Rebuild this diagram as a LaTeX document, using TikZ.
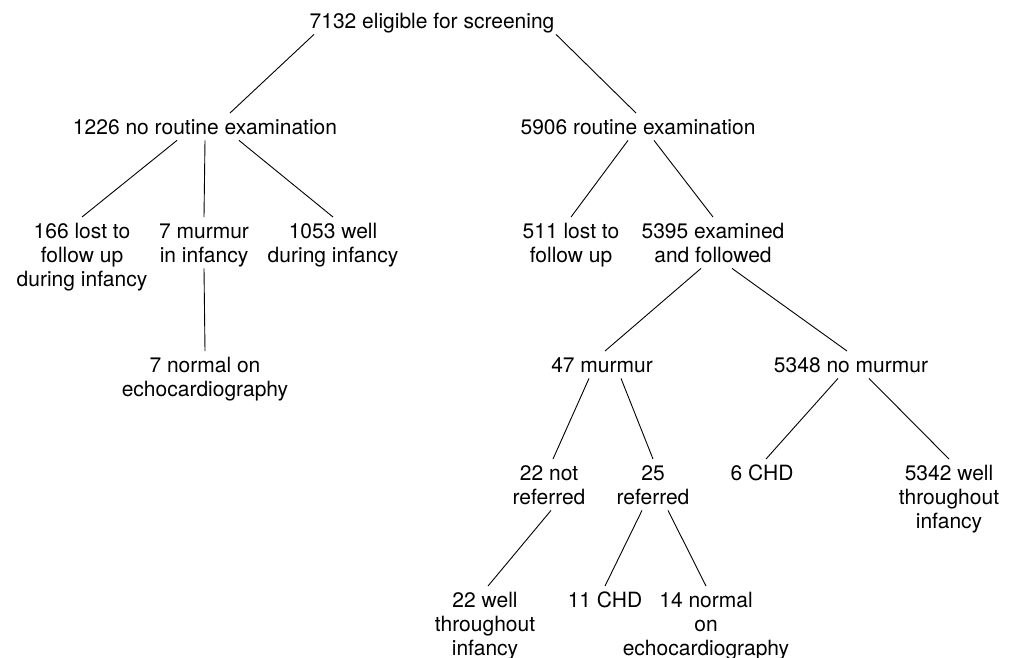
\documentclass[tikz,border=0pt]{standalone}
\usepackage{fontspec}
\setmainfont{TeX Gyre Heros}
\newcommand\topgap{\rule{0pt}{21pt}}
\newcommand\botgap{\rule[-6pt]{0pt}{6pt}}

\begin{document}
\begin{tikzpicture}[x=1pt, y=-1pt,
  lbl/.style={anchor=north, inner sep=0, align=center, font=\fontsize{21}{24}\selectfont},
  link/.style={line width=0.9pt}]
\useasboundingbox (0,0) rectangle (1009,657);
% first levels
\node[lbl] (root)   at (432,7)   {\topgap7132 eligible for screening\botgap};
\node[lbl] (noexam) at (205,113) {\topgap1226 no routine examination\botgap};
\node[lbl] (exam)   at (638,113) {\topgap5906 routine examination\botgap};
% no routine examination
\node[lbl] (lostA) at (82,217)  {\topgap166 lost to\\follow up\\during infancy\botgap};
\node[lbl] (murA)  at (204,217) {\topgap7 murmur\\in infancy\botgap};
\node[lbl] (wellA) at (333,217) {\topgap1053 well\\during infancy\botgap};
\node[lbl] (normA) at (205,351) {\topgap7 normal on\\echocardiography\botgap};
% routine examination
\node[lbl] (lostB)    at (571,217) {\topgap511 lost to\\follow up\botgap};
\node[lbl] (followed) at (713,217) {\topgap5395 examined\\and followed\botgap};
\node[lbl] (mur)      at (602,351) {\topgap47 murmur\botgap};
\node[lbl] (nomur)    at (851,351) {\topgap5348 no murmur\botgap};
\node[lbl] (notref) at (549,459) {\topgap22 not\\referred\botgap};
\node[lbl] (ref)    at (653,459) {\topgap25\\referred\botgap};
\node[lbl] (chdB)   at (762,459) {\topgap6 CHD\botgap};
\node[lbl] (wellC)  at (949,459) {\topgap5342 well\\throughout\\infancy\botgap};
\node[lbl] (wellB) at (485,586) {\topgap22 well\\throughout\\infancy\botgap};
\node[lbl] (chdA)  at (605,586) {\topgap11 CHD\botgap};
\node[lbl] (normB) at (706,586) {\topgap14 normal\\on\\echocardiography\botgap};
% branches
\foreach \a/\sa/\b/\sb in {root/-118/noexam/25, root/124/exam/-2,
  noexam/-28/lostA/0, noexam/0/murA/0, noexam/34/wellA/0, murA/0/normA/0,
  exam/-10/lostB/0, exam/16/followed/0, followed/-12/mur/3, followed/19/nomur/-4,
  mur/-13/notref/4, mur/19/ref/0, nomur/-13/chdB/4, nomur/18/wellC/0,
  notref/2/wellB/3, ref/-11/chdA/0, ref/15/normB/0}
  \draw[link] ([xshift=\sa]\a.south) -- ([xshift=\sb]\b.north);
\end{tikzpicture}
\end{document}
